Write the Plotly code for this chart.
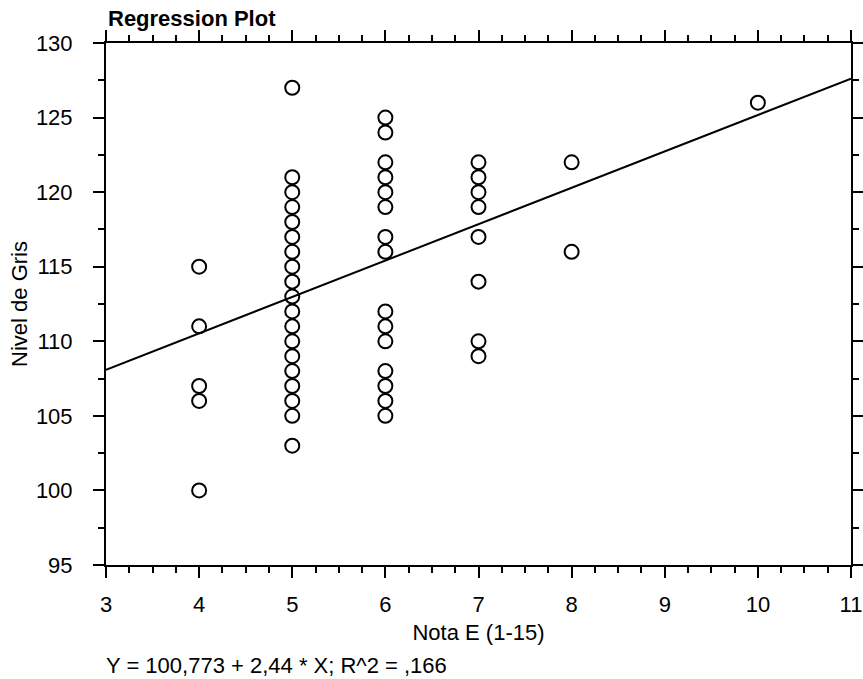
import plotly.graph_objects as go

# Data
x_vals = [4, 4, 4, 4, 4,
          5, 5, 5, 5, 5, 5, 5, 5, 5, 5, 5, 5, 5, 5, 5, 5, 5, 5, 5,
          6, 6, 6, 6, 6, 6, 6, 6, 6, 6, 6, 6, 6, 6, 6,
          7, 7, 7, 7, 7, 7, 7, 7,
          8, 8,
          10]
y_vals = [115, 111, 107, 106, 100,
          127, 121, 120, 119, 118, 117, 116, 115, 114, 113, 112, 111, 110, 109, 108, 107, 106, 105, 103,
          125, 124, 122, 121, 120, 119, 117, 116, 112, 111, 110, 108, 107, 106, 105,
          122, 121, 120, 119, 117, 114, 110, 109,
          122, 116,
          126]

intercept = 100.773
slope = 2.44
r_squared = 0.166
x_range = [3, 11]
y_range = [95, 130]

line_x = x_range
line_y = [intercept + slope * v for v in line_x]

FONT = "Liberation Sans, Arial, sans-serif"

fig = go.Figure()
fig.add_trace(go.Scatter(x=line_x, y=line_y, mode="lines",
                         line=dict(color="black", width=2), showlegend=False,
                         hoverinfo="skip"))
fig.add_trace(go.Scatter(x=x_vals, y=y_vals, mode="markers",
                         marker=dict(symbol="circle-open", size=14,
                                     color="black", line=dict(width=2, color="black")),
                         showlegend=False))

axis_common = dict(showgrid=False, zeroline=False, showline=True, linecolor="black",
                   linewidth=2, mirror="ticks", ticks="outside", ticklen=11,
                   tickwidth=2, tickcolor="black", automargin=False,
                   tickfont=dict(family=FONT, size=22, color="black"))

fig.update_xaxes(range=x_range, dtick=1, tick0=3,
                 minor=dict(dtick=0.25, ticklen=6, tickwidth=2, tickcolor="black", ticks="outside"),
                 title=dict(text="Nota E (1-15)", font=dict(family=FONT, size=22, color="black"),
                            standoff=8),
                 ticklabelstandoff=8,
                 **axis_common)
fig.update_yaxes(range=y_range, dtick=5, tick0=95,
                 minor=dict(dtick=2.5, ticklen=6, tickwidth=2, tickcolor="black", ticks="outside"),
                 title=dict(text="Nivel de Gris", font=dict(family=FONT, size=22, color="black"),
                            standoff=2),
                 ticklabelstandoff=16,
                 **axis_common)

eq_text = "Y = {:.3f} + {:.2f} * X; R^2 = ,{:03d}".format(intercept, slope, int(round(r_squared * 1000))).replace(".", ",")

fig.add_annotation(text=eq_text, xref="paper", yref="paper", x=0, y=-100 / 522,
                   xanchor="left", yanchor="middle", xshift=-2, showarrow=False,
                   font=dict(family=FONT, size=22, color="black"))

fig.update_layout(
    width=863, height=679,
    margin=dict(l=106, r=12, t=43, b=114),
    paper_bgcolor="white", plot_bgcolor="white",
    title=dict(text="<b>Regression Plot</b>", x=108 / 863, xanchor="left",
               y=1 - 18 / 679, yanchor="middle", xref="container", yref="container",
               font=dict(family=FONT, size=22, color="black")),
)

fig.write_html("out.html", config={"displayModeBar": False},
               post_script="document.body.style.margin='0';")
